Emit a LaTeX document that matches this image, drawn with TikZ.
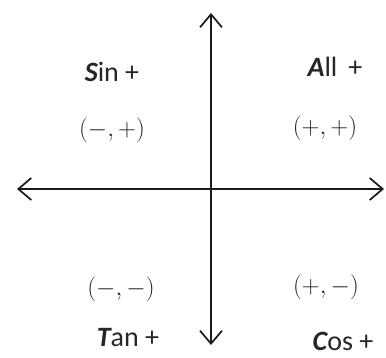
\documentclass[tikz,border=0pt]{standalone}
\usepackage{fontspec}
\setmainfont{Carlito}
\usetikzlibrary{arrows.meta}
\definecolor{txt}{HTML}{262626}
\definecolor{signc}{HTML}{222222}
\definecolor{axis}{HTML}{1A1A1A}
\begin{document}
\begin{tikzpicture}[x=1pt,y=-1pt,
  axisline/.style={draw=axis,line width=1.7pt,{Straight Barb[length=13pt,width=22pt]}-{Straight Barb[length=13pt,width=22pt]}},
  word/.style={inner sep=0pt,anchor=base,text=txt,font=\fontsize{28}{32}\selectfont},
  sign/.style={inner sep=0pt,text=signc,font=\fontsize{29}{32}\selectfont}]
\useasboundingbox (0,0) rectangle (386,358);
\coordinate (top) at (211,13);
\coordinate (bot) at (211,345);
\coordinate (lft) at (17,189);
\coordinate (rgt) at (384,189);
\draw[axisline] (bot) -- (top);
\draw[axisline] (lft) -- (rgt);
\node[word] (sin) at (112,82) {{\bfseries\itshape S}in +};
\node[word] (all) at (335,77) {{\bfseries\itshape A}ll\, +};
\node[word] (tan) at (128,347) {{\bfseries\itshape T}an +};
\node[word] (cos) at (343,351) {{\bfseries\itshape C}os +};
\node[sign] (q2) at (112,130) {$(-,+)$};
\node[sign] (q1) at (325,128) {$(+,+)$};
\node[sign] (q3) at (121,289) {$(-,-)$};
\node[sign] (q4) at (326,287) {$(+,-)$};
\end{tikzpicture}
\end{document}
